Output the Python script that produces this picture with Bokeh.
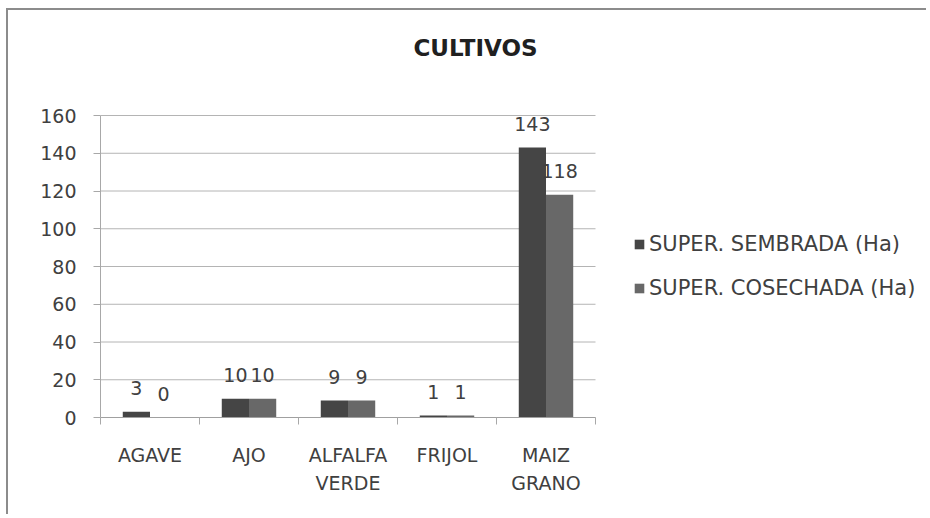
from bokeh.plotting import figure
from bokeh.models import (Range1d, ColumnDataSource, LabelSet, Legend, LegendItem,
                          LinearAxis, FixedTicker, Label)
from bokeh.core.properties import value
from bokeh.embed import file_html
from bokeh.resources import INLINE

# ---- data ----
categories = ["AGAVE", "AJO", "ALFALFA\nVERDE", "FRIJOL", "MAIZ\nGRANO"]
sembrada = [3, 10, 9, 1, 143]
cosechada = [0, 10, 9, 1, 118]
series_names = ["SUPER. SEMBRADA (Ha)", "SUPER. COSECHADA (Ha)"]
y_ticks = [0, 20, 40, 60, 80, 100, 120, 140, 160]
title_text = "CULTIVOS"

FONT = "DejaVu Sans"
TXT = "#404040"
C1 = "#454545"
C2 = "#686868"

# ---- layout (pixels) ----
W, H = 920, 506
LEFT, BOTTOM = 92, 99
CAT_W = 495          # pixel width of the category area
PLOT_H = 302         # pixel height for 0..160
n = len(categories)
ymax = y_ticks[-1]
frame_w = W - LEFT
frame_h = H - BOTTOM
x_end = n * frame_w / CAT_W
y_end = ymax * frame_h / PLOT_H

w = 0.275
centers = [i + 0.5 for i in range(n)]
src = ColumnDataSource(dict(xs=[c - w / 2 for c in centers], xc=[c + w / 2 for c in centers],
                            s=sembrada, c=cosechada,
                            s_lbl=[str(v) for v in sembrada],
                            c_lbl=[str(v) for v in cosechada]))

p = figure(width=W, height=H, x_range=Range1d(0, x_end),
           y_range=Range1d(0, y_end), x_axis_location=None,
           output_backend="svg", toolbar_location=None,
           min_border_left=LEFT, min_border_right=0,
           min_border_top=0, min_border_bottom=BOTTOM)
p.styles = {"margin-left": "6px", "margin-top": "8px",
            "border-left": "2px solid #8c8c8c", "border-top": "2px solid #8c8c8c",
            "border-right": "none", "border-bottom": "none"}
p.outline_line_color = None
p.background_fill_color = "white"
p.border_fill_color = "white"
p.xgrid.grid_line_color = None
p.ygrid.grid_line_color = None

# horizontal grid lines over the category area only
p.segment(x0=[0] * len(y_ticks), x1=[n] * len(y_ticks), y0=y_ticks, y1=y_ticks,
          line_color="#b4b4b4", line_width=1)

r1 = p.vbar(x="xs", top="s", width=w, source=src, fill_color=C1, line_color=None)
r2 = p.vbar(x="xc", top="c", width=w, source=src, fill_color=C2, line_color=None)

for xcol, ycol, tcol in (("xs", "s", "s_lbl"), ("xc", "c", "c_lbl")):
    p.add_layout(LabelSet(x=xcol, y=ycol, text=tcol,
                          source=src, y_offset=24, text_align="center",
                          text_baseline="middle", text_font=value(FONT),
                          text_font_size="19px", text_color=TXT))

# y axis
ya = p.yaxis[0]
ya.ticker = FixedTicker(ticks=y_ticks)
ya.bounds = (0, ymax)
ya.axis_line_color = "#a8a8a8"
ya.major_tick_line_color = "#a8a8a8"
ya.major_tick_out = 7
ya.major_tick_in = 0
ya.minor_tick_line_color = None
ya.major_label_standoff = 17
ya.major_label_text_font = FONT
ya.major_label_text_font_size = "19px"
ya.major_label_text_color = TXT

# x axis: boundary ticks + category labels
bx = LinearAxis(ticker=FixedTicker(ticks=list(range(n + 1))), bounds=(0, n),
                axis_line_color="#a0a0a0", major_tick_line_color="#a8a8a8",
                major_tick_out=7, major_tick_in=0, minor_tick_line_color=None,
                major_label_overrides={i: "" for i in range(n + 1)},
                major_label_text_font_size="1px", major_label_standoff=0)
p.add_layout(bx, "below")
cx = LinearAxis(ticker=FixedTicker(ticks=centers), axis_line_color=None,
                major_tick_line_color=None, minor_tick_line_color=None,
                major_label_overrides={c: lab for c, lab in zip(centers, categories)},
                major_label_standoff=13,
                major_label_text_font=FONT, major_label_text_font_size="19px",
                major_label_text_color=TXT, major_label_text_line_height=1.3)
p.add_layout(cx, "below")

# title
p.add_layout(Label(x=375, y=370, x_units="screen", y_units="screen", text=title_text,
                   text_font=FONT, text_font_size="23px", text_font_style="bold",
                   text_color="#202020", text_align="center", text_baseline="middle"))

# legend
legend = Legend(items=[LegendItem(label=series_names[0], renderers=[r1]),
                       LegendItem(label=series_names[1], renderers=[r2])],
                location=(533, 117), orientation="vertical",
                glyph_width=12, glyph_height=12, label_standoff=4,
                label_height=20, spacing=20, padding=0, margin=0,
                border_line_color=None, background_fill_alpha=0,
                label_text_font=FONT, label_text_font_size="21px", label_text_color=TXT)
p.add_layout(legend, "center")

open("out.html", "w").write(file_html(p, INLINE))
